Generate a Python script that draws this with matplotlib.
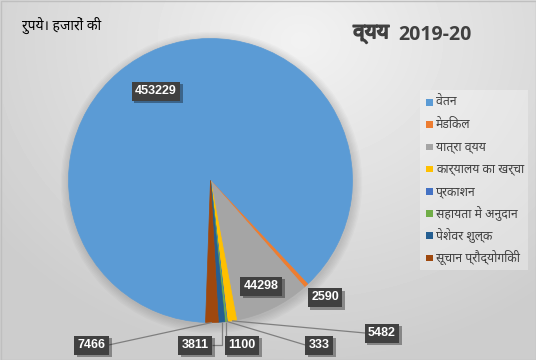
import numpy as np
import matplotlib
matplotlib.use('Agg')
import matplotlib.pyplot as plt
from matplotlib import font_manager as fm
from matplotlib.patches import Rectangle, Circle
import matplotlib.patheffects as pe

categories = ['वेतन', 'मेडिकल', 'यात्रा व्यय', 'कार्यालय का खर्चा', 'प्रकाशन',
              'सहायता में अनुदान', 'पेशेवर शुल्क', 'सूचान प्रौद्योगिकी']
values = [453229, 2590, 44298, 5482, 333, 1100, 3811, 7466]
colors = ['#5B9BD5', '#ED7D31', '#A5A5A5', '#FFC000', '#4472C4', '#70AD47', '#255E91', '#9E480E']
title_word = 'व्यय'
title_year = '2019-20'
unit_text = 'रुपये। हजारों की'


def find_deva():
    names = {f.name for f in fm.fontManager.ttflist}
    for p in ['Noto Sans Devanagari', 'FreeSans', 'Lohit Devanagari', 'Mangal']:
        if p in names:
            return p
    return None


deva = find_deva()
deva_list = ([deva] if deva else []) + ['DejaVu Sans']

W, H = 536, 360
fig = plt.figure(figsize=(W / 100, H / 100), dpi=100)
ax = fig.add_axes([0, 0, 1, 1])

# background gradient
yy, xx = np.mgrid[0:H, 0:W]
d = np.sqrt(((xx - 300) / 380.0) ** 2 + ((yy - 40) / 320.0) ** 2)
v = (242 - 37 * np.clip(d, 0, 1)) / 255.0
ax.imshow(v, cmap='gray', vmin=0, vmax=1, extent=(0, W, 0, H), origin='upper',
          zorder=0, aspect='auto', interpolation='bilinear')

cx, cy, R = 210.5, H - 180.5, 142
# soft shadow around pie
for k in range(7):
    ax.add_patch(Circle((cx + 1, cy - 2), R + 1 + k * 1.3, color='k', alpha=0.018,
                        zorder=1, lw=0))

wedges, _ = ax.pie(values, colors=colors, startangle=90 - 182, counterclock=False,
                   center=(cx, cy), radius=R, wedgeprops=dict(linewidth=0.5))
for w in wedges:
    w.set_edgecolor(w.get_facecolor())
    w.set_zorder(2)

# data label layout (box centres, pixel coords from top)
label_pos = [(156, 91), (325, 297.5), (261, 286), (382, 333),
             (319, 345), (241.7, 345), (195.2, 345), (91.6, 345)]
leader = [False, False, False, True, True, True, True, True]

for i, (val, (lx, ly_top), lead) in enumerate(zip(values, label_pos, leader)):
    ly = H - ly_top
    txt = str(val)
    if lead:
        w = wedges[i]
        mid = np.deg2rad((w.theta1 + w.theta2) / 2)
        sx, sy = cx + R * np.cos(mid), cy + R * np.sin(mid)
        hw = 3.4 * len(txt) + 3.4
        ex = lx + hw if lx < sx else lx - hw
        if abs(lx - sx) < 30:
            pts = [(sx, sy), (sx, ly), (ex, ly)]
        else:
            pts = [(sx, sy), (ex, ly)]
        px, py = zip(*pts)
        ax.plot(px, py, color='#7f7f7f', lw=0.9, zorder=3, solid_capstyle='butt')
    t = ax.text(lx, ly, txt, ha='center', va='center', color='white',
                fontsize=9, fontweight='bold', family='Liberation Sans', zorder=5,
                bbox=dict(boxstyle='square,pad=0.28', facecolor='#404040',
                          edgecolor='none'))
    t.get_bbox_patch().set_path_effects([
        pe.withSimplePatchShadow(offset=(2, -2), shadow_rgbFace='k', alpha=0.35)])

# legend
ax.add_patch(Rectangle((420, H - 270), 108, 180, facecolor='white', alpha=0.3,
                       edgecolor='none', zorder=2))
for i, (cat, col) in enumerate(zip(categories, colors)):
    yc = H - (102.5 + i * 22.2)
    ax.add_patch(Rectangle((426, yc - 3.3), 6.6, 6.6, facecolor=col, edgecolor='none',
                           zorder=3))
    ax.text(436, yc, cat, ha='left', va='center', fontsize=8.8, color='#404040',
            family=deva_list, zorder=3)

# titles
ax.text(389, H - 33, title_word, ha='right', va='center',
        fontsize=15, fontweight='bold', color='#404040',
        family=deva_list, zorder=3,
        path_effects=[pe.withStroke(linewidth=1.1, foreground='#404040')])
ax.text(398, H - 35, title_year, ha='left', va='center',
        fontsize=14, fontweight='bold', color='#404040',
        family=['Open Sans'] + deva_list, zorder=3)
ax.text(23, H - 25, unit_text, ha='left', va='center', fontsize=10, color='black',
        family=deva_list, zorder=3)

ax.add_patch(Rectangle((0.5, 0.5), W - 1, H - 1, fill=False, edgecolor='#bfbfbf',
                       lw=1, zorder=10))
ax.set_xlim(0, W)
ax.set_ylim(0, H)
ax.set_aspect('auto')
ax.axis('off')
fig.savefig('out.png', dpi=100)
